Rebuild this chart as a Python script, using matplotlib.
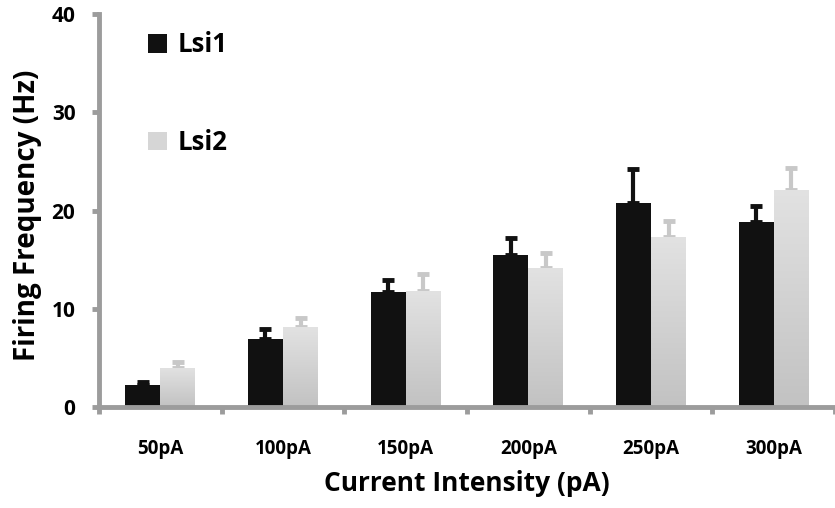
import numpy as np
import matplotlib
matplotlib.use('Agg')
import matplotlib.pyplot as plt
from matplotlib.patches import Patch

plt.rcParams['font.family'] = ['Open Sans', 'DejaVu Sans']
plt.rcParams['font.weight'] = 'bold'

categories = ['50pA', '100pA', '150pA', '200pA', '250pA', '300pA']
lsi1 = [2.2, 6.9, 11.7, 15.5, 20.8, 18.8]
lsi1_err = [0.35, 1.0, 1.2, 1.7, 3.4, 1.65]
lsi2 = [4.0, 8.1, 11.8, 14.1, 17.3, 22.1]
lsi2_err = [0.6, 1.0, 1.7, 1.6, 1.65, 2.2]

axis_gray = '#9c9c9c'
dark = '#111111'
light_err = '#c8c8c8'


def fill_gradient(ax, bars, top_color, bottom_color):
    grad = np.linspace(0, 1, 256).reshape(-1, 1)
    top = np.array(matplotlib.colors.to_rgb(top_color))
    bot = np.array(matplotlib.colors.to_rgb(bottom_color))
    img = top + (bot - top) * grad[:, :, None]
    for b in bars:
        x0, y0 = b.get_x(), b.get_y()
        w, h = b.get_width(), b.get_height()
        im = ax.imshow(img, extent=[x0, x0 + w, y0, y0 + h], aspect='auto',
                       origin='upper', zorder=b.get_zorder() + 0.1)
        im.set_clip_path(b)


fig = plt.figure(figsize=(8.35, 5.08), dpi=100)
ax = fig.add_axes([0.1186, 0.1988, 0.8814, 0.7736])

x = np.arange(len(categories))
width = 0.285
off = 0.143

b1 = ax.bar(x - off, lsi1, width, color=dark, zorder=2)
b2 = ax.bar(x + off, lsi2, width, color='#d8d8d8', zorder=2)
fill_gradient(ax, b2, '#e2e2e2', '#c2c2c2')

ax.errorbar(x - off, lsi1, yerr=[np.zeros(len(lsi1)), lsi1_err], fmt='none',
            ecolor=dark, elinewidth=3, capsize=4.5, capthick=3.5, zorder=1)
ax.errorbar(x + off, lsi2, yerr=[np.zeros(len(lsi2)), lsi2_err], fmt='none',
            ecolor=light_err, elinewidth=3, capsize=4.5, capthick=3.5, zorder=1)

ax.set_xlim(-0.5, len(categories) - 0.5)
ax.set_ylim(0, 40)
ax.set_yticks([0, 10, 20, 30, 40])
ax.set_xticks(x)
ax.set_xticklabels(categories)
ax.set_xticks(np.arange(-0.5, len(categories), 1), minor=True)

for s in ['top', 'right']:
    ax.spines[s].set_visible(False)
for s in ['left', 'bottom']:
    ax.spines[s].set_color(axis_gray)
    ax.spines[s].set_linewidth(3.5)

ax.tick_params(axis='y', length=5, width=3.5, color=axis_gray, pad=12,
               labelsize=15)
ax.tick_params(axis='x', which='major', length=0, pad=23, labelsize=13.5)
ax.tick_params(axis='x', which='minor', length=5, width=3.5, color=axis_gray)
for lab in ax.get_xticklabels() + ax.get_yticklabels():
    lab.set_fontweight('bold')

ax.set_xlabel('Current Intensity (pA)', fontsize=19, fontweight='bold', labelpad=8)
ax.set_ylabel('Firing Frequency (Hz)', fontsize=20, fontweight='bold')
ax.yaxis.set_label_coords(-0.078, 0.488)

handles = [Patch(facecolor=dark, label='Lsi1'),
           Patch(facecolor='#d6d6d6', label='Lsi2')]
leg = ax.legend(handles=handles, loc='upper left', bbox_to_anchor=(0.035, 1.015),
                frameon=False, fontsize=18.5, labelspacing=2.75, handlelength=0.75,
                handleheight=0.75, handletextpad=0.4)
for t in leg.get_texts():
    t.set_fontweight('bold')

fig.savefig('out.png', dpi=100)
